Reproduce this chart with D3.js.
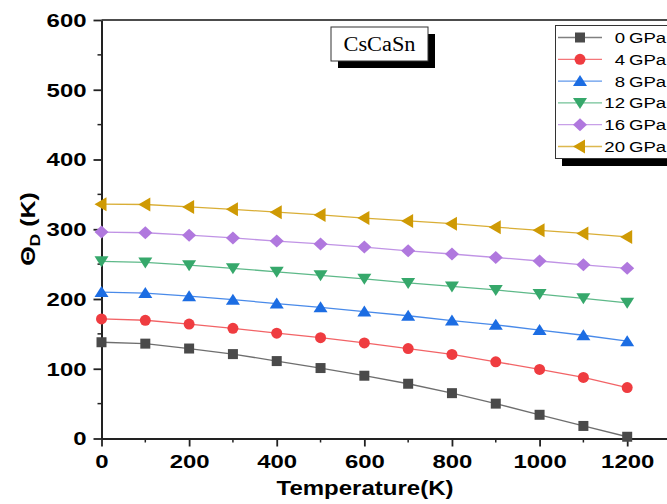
<!DOCTYPE html>
<html>
<head>
<meta charset="utf-8">
<script src="https://cdn.jsdelivr.net/npm/d3@7/dist/d3.min.js"></script>
<style>
  html, body { margin: 0; padding: 0; background: #fff; }
  svg { display: block; }
</style>
</head>
<body>
<svg id="chart" width="667" height="504"></svg>
<script>
// Debye temperature of CsCaSn versus temperature at several pressures
const temperatures = [0, 100, 200, 300, 400, 500, 600, 700, 800, 900, 1000, 1100, 1200];
const pressureLabels = ["0", "4", "8", "12", "16", "20"];
const theta0  = [138, 136, 129, 121, 111, 101, 90, 78.5, 65, 50, 34, 18, 2.5];
const theta4  = [171.5, 169.5, 164, 158, 151, 144.5, 137, 129, 120.5, 110, 99, 87.5, 73];
const theta8  = [210, 208.5, 204, 199, 193.5, 188, 182, 176, 169, 163, 155.5, 148, 139.5];
const theta12 = [254, 252.5, 248.5, 244, 239, 234, 229, 223, 218, 213, 207, 201, 194.5];
const theta16 = [296, 295, 291.5, 287.5, 283, 279, 274.5, 269, 264.5, 259.5, 254.5, 249, 244];
const theta20 = [336, 335.5, 332, 328.5, 324.5, 320.5, 316, 312, 308, 303, 298.5, 294, 289];
const yTicks = [0, 100, 200, 300, 400, 500, 600];
const xTicks = [0, 200, 400, 600, 800, 1000, 1200];

const seriesValues = [theta0, theta4, theta8, theta12, theta16, theta20];
const colors = ["#4a4a4a", "#ef3c40", "#1c6de3", "#36a86b", "#b078de", "#cf9a04"];
const shapes = ["square", "circle", "triangleUp", "triangleDown", "diamond", "triangleLeft"];

const svg = d3.select("#chart");
const plotLeft = 101.5, plotTop = 20, plotBottom = 438.5, plotRight = 671;

const x = d3.scaleLinear().domain([0, 1300]).range([plotLeft, plotRight]);
const y = d3.scaleLinear().domain([0, 600]).range([plotBottom, plotTop]);

// Marker path generator, centred at origin
function markerPath(shape) {
  switch (shape) {
    case "square": return "M-5,-5H5V5H-5Z";
    case "circle": return d3.symbol(d3.symbolCircle, 95)();
    case "triangleUp": return "M0,-6L7,5L-7,5Z";
    case "triangleDown": return "M0,6L7,-5L-7,-5Z";
    case "diamond": return "M0,-6.5L7,0L0,6.5L-7,0Z";
    case "triangleLeft": return "M-7,0L5,-7L5,7Z";
  }
}

// frame top line
svg.append("line")
  .attr("x1", plotLeft).attr("x2", 667).attr("y1", plotTop).attr("y2", plotTop)
  .attr("stroke", "#111").attr("stroke-width", 1.3);

// minor ticks
const yMinor = d3.range(50, 600, 100);
svg.append("g").selectAll("line").data(yMinor).join("line")
  .attr("x1", plotLeft - 4).attr("x2", plotLeft)
  .attr("y1", d => y(d)).attr("y2", d => y(d))
  .attr("stroke", "#222").attr("stroke-width", 1.5);
const xMinor = d3.range(100, 1300, 200);
svg.append("g").selectAll("line").data(xMinor).join("line")
  .attr("x1", d => x(d)).attr("x2", d => x(d))
  .attr("y1", plotBottom).attr("y2", plotBottom + 4)
  .attr("stroke", "#222").attr("stroke-width", 1.5);

// axes
const fmt = d3.format("d");
const yAxis = svg.append("g")
  .attr("transform", `translate(${plotLeft},0)`)
  .call(d3.axisLeft(y).tickValues(yTicks).tickFormat(fmt).tickSize(8).tickPadding(6).tickSizeOuter(0));
const xAxis = svg.append("g")
  .attr("transform", `translate(0,${plotBottom})`)
  .call(d3.axisBottom(x).tickValues(xTicks).tickFormat(fmt).tickSize(8).tickPadding(9).tickSizeOuter(0));

[yAxis, xAxis].forEach(g => {
  g.select(".domain").attr("stroke", "#222").attr("stroke-width", 2);
  g.selectAll(".tick line").attr("stroke", "#222").attr("stroke-width", 1.8);
  g.selectAll(".tick text")
    .attr("font-family", "'Liberation Sans', Arial, sans-serif")
    .attr("font-weight", "bold")
    .attr("font-size", 18)
    .attr("fill", "#000");
});
// tick labels are drawn wide: stretch them horizontally about their anchor
yAxis.selectAll(".tick text")
  .attr("dy", "0.36em")
  .attr("x", 0)
  .attr("transform", "translate(-15,0) scale(1.33,1)");
xAxis.selectAll(".tick text")
  .attr("dy", "0.72em")
  .attr("transform", "scale(1.33,1)");

// data lines and markers
const line = d3.line().x((d, i) => x(temperatures[i])).y(d => y(d));
seriesValues.forEach((vals, k) => {
  svg.append("path")
    .attr("d", line(vals))
    .attr("fill", "none")
    .attr("stroke", colors[k])
    .attr("stroke-width", 1.3)
    .attr("stroke-opacity", 0.8);
});
seriesValues.forEach((vals, k) => {
  svg.append("g").selectAll("path").data(vals).join("path")
    .attr("d", markerPath(shapes[k]))
    .attr("transform", (d, i) => `translate(${x(temperatures[i])},${y(d)})`)
    .attr("fill", colors[k]);
});

// axis titles
svg.append("text")
  .attr("x", 365).attr("y", 495)
  .attr("text-anchor", "middle")
  .attr("font-family", "'Liberation Sans', Arial, sans-serif")
  .attr("font-weight", "bold").attr("font-size", 20)
  .attr("textLength", 177).attr("lengthAdjust", "spacingAndGlyphs")
  .text("Temperature(K)");

const yTitle = svg.append("text")
  .attr("transform", "translate(35,229) rotate(-90) scale(1.25,1)")
  .attr("text-anchor", "middle")
  .attr("font-family", "'Liberation Sans', Arial, sans-serif")
  .attr("font-weight", "bold").attr("font-size", 20);
yTitle.append("tspan").text("Θ");
yTitle.append("tspan").attr("font-size", 14).attr("dy", 5).text("D");
yTitle.append("tspan").attr("dy", -5).text(" (K)");

// compound label box with shadow
svg.append("rect").attr("x", 338).attr("y", 34).attr("width", 97).attr("height", 34).attr("fill", "#000");
svg.append("rect").attr("x", 331).attr("y", 27).attr("width", 97).attr("height", 34)
  .attr("fill", "#fff").attr("stroke", "#333").attr("stroke-width", 1);
svg.append("text")
  .attr("x", 379.5).attr("y", 51)
  .attr("text-anchor", "middle")
  .attr("font-family", "'Liberation Serif', 'Times New Roman', serif")
  .attr("font-size", 20)
  .attr("textLength", 72).attr("lengthAdjust", "spacingAndGlyphs")
  .text("CsCaSn");

// legend with shadow
const lg = svg.append("g");
lg.append("rect").attr("x", 562).attr("y", 32).attr("width", 120).attr("height", 134).attr("fill", "#000");
lg.append("rect").attr("x", 555.5).attr("y", 25.5).attr("width", 120).attr("height", 133)
  .attr("fill", "#fff").attr("stroke", "#333").attr("stroke-width", 1);
pressureLabels.forEach((p, k) => {
  const cy = 37.5 + k * 21.8;
  lg.append("line").attr("x1", 558).attr("x2", 602).attr("y1", cy).attr("y2", cy)
    .attr("stroke", colors[k]).attr("stroke-width", 1.3).attr("stroke-opacity", 0.7);
  lg.append("path").attr("d", markerPath(shapes[k]))
    .attr("transform", `translate(580,${cy})`).attr("fill", colors[k]);
  lg.append("text")
    .attr("transform", `translate(625,${cy + 5.5}) scale(1.2,1)`)
    .attr("text-anchor", "end")
    .attr("font-family", "'Liberation Sans', Arial, sans-serif")
    .attr("font-size", 15.5)
    .text(p);
  lg.append("text")
    .attr("transform", `translate(629,${cy + 5.5}) scale(1.2,1)`)
    .attr("font-family", "'Liberation Sans', Arial, sans-serif")
    .attr("font-size", 15.5)
    .text("GPa");
});
</script>
</body>
</html>
